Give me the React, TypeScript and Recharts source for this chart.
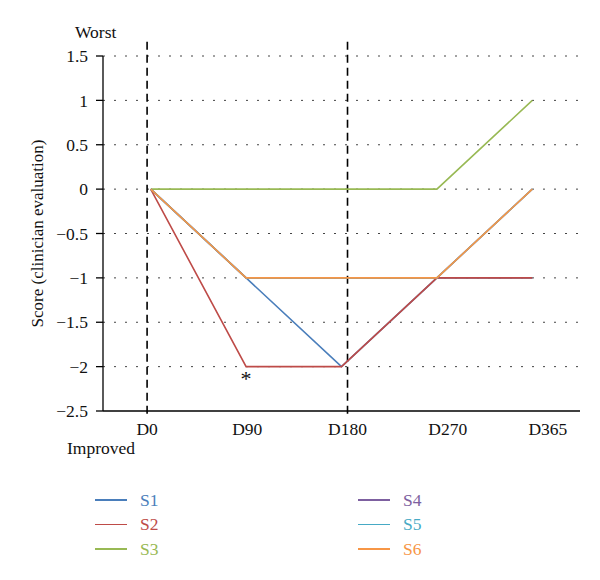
import React from 'react';
import {
  LineChart,
  Line,
  XAxis,
  YAxis,
  CartesianGrid,
  ReferenceLine,
  ReferenceDot,
} from 'recharts';

// Time points and clinician scores per subject
const days = ['D0', 'D90', 'D180', 'D270', 'D365'];
const s1 = [0, -1, -2, -1, -1];
const s2 = [0, -2, -2, -1, -1];
const s3 = [0, 0, 0, 0, 1];
const s4 = [0, -1, -1, -1, 0];
const s5 = [0, -1, -1, -1, 0];
const s6 = [0, -1, -1, -1, 0];
const yTicks = [-2.5, -2, -1.5, -1, -0.5, 0, 0.5, 1, 1.5];

const FONT = '"Liberation Serif", "DejaVu Serif", serif';

const series = [
  { key: 'S1', values: s1, color: '#4a7ebb' },
  { key: 'S2', values: s2, color: '#be4b48' },
  { key: 'S3', values: s3, color: '#98b954' },
  { key: 'S4', values: s4, color: '#7d60a0' },
  { key: 'S5', values: s5, color: '#46aac5' },
  { key: 'S6', values: s6, color: '#f79646' },
];

const data = days.map((d, i) => {
  const row: Record<string, number | string> = { x: i, day: d };
  series.forEach(s => {
    row[s.key] = s.values[i];
  });
  return row;
});

const fmt = (v: number) => String(v).replace('-', '\u2212');

const AxisTitle = ({ viewBox }: any) => {
  const cx = viewBox.x - 6;
  const cy = viewBox.y + viewBox.height / 2;
  return (
    <text
      x={cx}
      y={cy}
      transform={`rotate(-90, ${cx}, ${cy})`}
      textAnchor="middle"
      dominantBaseline="central"
      fontFamily={FONT}
      fontSize={17}
      fill="#111"
    >
      Score (clinician evaluation)
    </text>
  );
};

export default function App() {
  return (
    <div style={{ position: 'absolute', left: 0, top: 0, width: 600, height: 580, background: '#fff', fontFamily: FONT }}>
      <LineChart
        width={600}
        height={580}
        data={data}
        margin={{ top: 56, right: 20, bottom: 139, left: 43 }}
      >
        <CartesianGrid
          vertical={false}
          stroke="#444"
          strokeDasharray="2 9"
          horizontalValues={yTicks.filter(t => t > -2.5)}
        />
        <XAxis
          xAxisId="lab"
          dataKey="x"
          type="number"
          domain={[-0.44, 4.32]}
          allowDataOverflow
          ticks={[0, 1, 2, 3, 4]}
          tickFormatter={(v: number) => days[v] ?? ''}
          tickLine={false}
          tickSize={6}
          tickMargin={6}
          height={30}
          axisLine={{ stroke: '#000', strokeWidth: 1.3 }}
          tick={{ fill: '#111', fontSize: 17.5, fontFamily: FONT }}
        />
        <XAxis
          xAxisId="dat"
          dataKey="x"
          type="number"
          domain={[-0.5, 4.5]}
          allowDataOverflow
          height={0}
          hide
        />
        <YAxis
          type="number"
          domain={[-2.5, 1.5]}
          ticks={yTicks}
          interval={0}
          width={60}
          tickSize={7}
          tickMargin={8}
          tickFormatter={fmt}
          axisLine={{ stroke: '#000', strokeWidth: 1.3 }}
          tickLine={{ stroke: '#000', strokeWidth: 1.3 }}
          tick={{ fill: '#111', fontSize: 17.5, fontFamily: FONT }}
          label={<AxisTitle />}
        />
        <ReferenceLine
          xAxisId="lab"
          segment={[{ x: 0, y: 1.66 }, { x: 0, y: -2.55 }]}
          ifOverflow="visible"
          stroke="#000"
          strokeWidth={1.6}
          strokeDasharray="8 5"
        />
        <ReferenceLine
          xAxisId="lab"
          segment={[{ x: 2, y: 1.66 }, { x: 2, y: -2.55 }]}
          ifOverflow="visible"
          stroke="#000"
          strokeWidth={1.6}
          strokeDasharray="8 5"
        />
        {series.map(s => (
          <Line
            key={s.key}
            xAxisId="dat"
            type="linear"
            dataKey={s.key}
            stroke={s.color}
            strokeWidth={1.6}
            dot={false}
            activeDot={false}
            isAnimationActive={false}
          />
        ))}
        <ReferenceDot
          xAxisId="dat"
          x={1}
          y={-2}
          r={0}
          ifOverflow="visible"
          label={{ value: '*', position: 'bottom', offset: 4, fontSize: 22, fill: '#111', fontFamily: FONT }}
        />
      </LineChart>

      <div style={{ position: 'absolute', left: 75, top: 22, fontSize: 17.5, color: '#111' }}>Worst</div>
      <div style={{ position: 'absolute', left: 67, top: 438, fontSize: 17.5, color: '#111' }}>Improved</div>

      {series.map((s, i) => {
        const col = Math.floor(i / 3);
        const row = i % 3;
        const left = col === 0 ? 95 : 358;
        const top = 500 + row * 24.5;
        return (
          <div key={s.key} style={{ position: 'absolute', left, top: top - 11, height: 22, display: 'flex', alignItems: 'center' }}>
            <span style={{ display: 'inline-block', width: 32, height: 1.6, background: s.color }} />
            <span style={{ marginLeft: 13, fontSize: 17.5, color: s.color }}>{s.key}</span>
          </div>
        );
      })}
    </div>
  );
}
